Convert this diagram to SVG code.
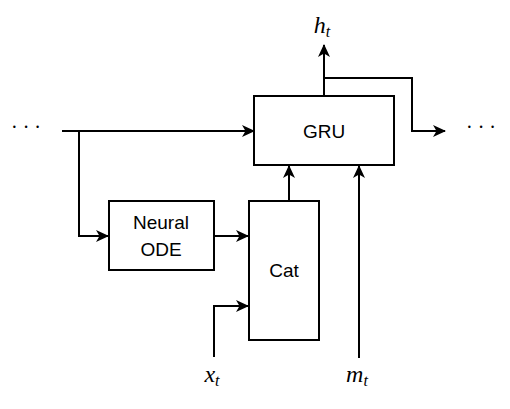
<svg xmlns="http://www.w3.org/2000/svg" width="510" height="409" viewBox="0 0 510 409">
<style>
.box{fill:#fff;stroke:#000;stroke-width:2}
.lbl{font-family:"Liberation Sans",Arial,sans-serif;font-size:19px;fill:#000;text-anchor:middle}
.math{font-family:"Liberation Serif","DejaVu Serif",serif;font-style:italic;font-size:24px;fill:#000;text-anchor:middle}
.sub{font-size:16px}
.dots{font-family:"Liberation Serif",serif;font-size:20px;fill:#000;text-anchor:middle}
.edge{fill:none;stroke:#000;stroke-width:2}
</style>
<defs>
<marker id="arr" markerUnits="userSpaceOnUse" markerWidth="14" markerHeight="12" refX="12" refY="6" orient="auto" viewBox="0 0 14 12">
<path d="M0,0 L13,6 L0,12 L3.5,6 Z" fill="#000"/>
</marker>
</defs>
<rect width="510" height="409" fill="#fff"/>
<g id="connectors">
<path class="edge" d="M62,131 H254" marker-end="url(#arr)"/>
<path class="edge" d="M79,131 V236 H108" marker-end="url(#arr)"/>
<path class="edge" d="M214,236 H248" marker-end="url(#arr)"/>
<path class="edge" d="M214,357 V306 H248" marker-end="url(#arr)"/>
<path class="edge" d="M289,200 V166" marker-end="url(#arr)"/>
<path class="edge" d="M359,358 V166" marker-end="url(#arr)"/>
<path class="edge" d="M324,96 V45" marker-end="url(#arr)"/>
<path class="edge" d="M324,78 H412 V131 H445" marker-end="url(#arr)"/>
</g>
<g id="gru">
<rect class="box" x="254" y="96" width="140" height="69"/>
<text class="lbl" x="324" y="138">GRU</text>
</g>
<g id="neural-ode">
<rect class="box" x="109" y="201" width="105" height="69"/>
<text class="lbl" x="161" y="229">Neural</text>
<text class="lbl" x="161" y="256">ODE</text>
</g>
<g id="cat">
<rect class="box" x="249" y="201" width="70" height="139"/>
<text class="lbl" x="284" y="277">Cat</text>
</g>
<g id="labels">
<text class="dots" x="26" y="134">· · ·</text>
<text class="dots" x="481" y="134">· · ·</text>
<text class="math" x="322" y="33">h<tspan class="sub" dy="4">t</tspan></text>
<text class="math" x="212" y="382">x<tspan class="sub" dy="4">t</tspan></text>
<text class="math" x="357" y="382">m<tspan class="sub" dy="4">t</tspan></text>
</g>
</svg>
